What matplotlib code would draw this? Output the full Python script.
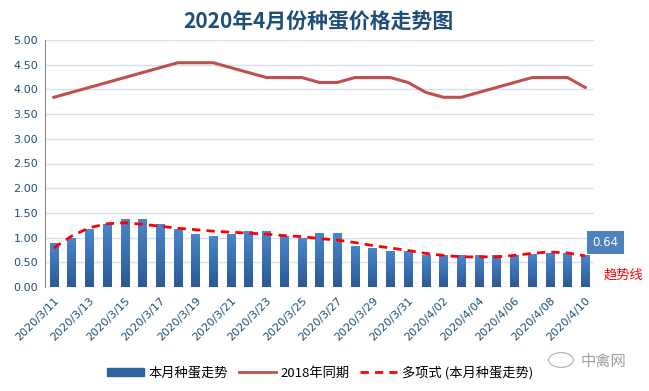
import numpy as np
import matplotlib
matplotlib.use('Agg')
import matplotlib.pyplot as plt
from matplotlib.patches import Rectangle, Circle
from matplotlib.lines import Line2D

plt.rcParams['font.family'] = ['Noto Sans CJK SC', 'DejaVu Sans']

# dates 2020/3/11 .. 2020/4/10
dates = [f'2020/3/{d}' for d in range(11, 32)] + [f'2020/4/{d:02d}' for d in range(1, 11)]

# this month's hatching-egg price
price_2020 = [0.89, 1.00, 1.18, 1.28, 1.38, 1.38, 1.28, 1.18, 1.08, 1.04,
              1.08, 1.14, 1.14, 1.04, 1.00, 1.10, 1.10, 0.83, 0.78, 0.73,
              0.72, 0.64, 0.64, 0.64, 0.64, 0.64, 0.64, 0.67, 0.68, 0.68, 0.64]

# same period 2018
price_2018 = [3.84, 3.94, 4.04, 4.14, 4.24, 4.34, 4.44, 4.54, 4.54, 4.54,
              4.44, 4.34, 4.24, 4.24, 4.24, 4.14, 4.14, 4.24, 4.24, 4.24,
              4.14, 3.94, 3.84, 3.84, 3.94, 4.04, 4.14, 4.24, 4.24, 4.24, 4.04]

# polynomial trend line
trend = [0.79, 1.03, 1.20, 1.28, 1.30, 1.27, 1.23, 1.19, 1.16, 1.13,
         1.11, 1.09, 1.07, 1.04, 1.02, 0.98, 0.95, 0.90, 0.84, 0.79,
         0.74, 0.68, 0.64, 0.61, 0.61, 0.61, 0.64, 0.68, 0.71, 0.69, 0.63]

yticks = [0, 0.5, 1.0, 1.5, 2.0, 2.5, 3.0, 3.5, 4.0, 4.5, 5.0]

fig = plt.figure(figsize=(6.49, 3.91), dpi=100)
ax = fig.add_axes([45 / 649, 1 - 287 / 391, (594 - 45) / 649, (287 - 40) / 391])

x = np.arange(len(dates))
bar_w = 0.47

# gradient bars
grad = np.linspace(0, 1, 64).reshape(-1, 1)
cmap = matplotlib.colors.LinearSegmentedColormap.from_list('bl', ['#2c5a94', '#4a87cc'])
bars = ax.bar(x, price_2020, width=bar_w, color='#3a70b3', zorder=2)
for b in bars:
    bx, by = b.get_x(), b.get_y()
    bw, bh = b.get_width(), b.get_height()
    im = ax.imshow(grad, cmap=cmap, aspect='auto', origin='lower',
                   extent=[bx, bx + bw, by, by + bh], zorder=2.1)
    im.set_clip_path(b)

ax.plot(x, price_2018, color='#c0504d', lw=2.2, zorder=3)
ax.plot(x, trend, color='#ff0000', lw=2, ls=(0, (3, 2.2)), zorder=4)

ax.set_xlim(-0.5, len(dates) - 0.5)
ax.set_ylim(0, 5)
ax.set_yticks(yticks)
ax.set_yticklabels([f'{v:.2f}' for v in yticks], color='#1f4e79', fontsize=8,
                   family=['DejaVu Sans'])
ax.set_xticks(x[::2])
ax.set_xticklabels(dates[::2], rotation=45, ha='right', rotation_mode='anchor',
                   color='#1f4e79', fontsize=8, family=['DejaVu Sans'])
ax.tick_params(length=0, pad=5)
ax.tick_params(axis='x', pad=6)
ax.grid(axis='y', color='#d6e0ef', lw=1, zorder=0)
for s in ['top', 'right', 'bottom']:
    ax.spines[s].set_visible(False)
ax.spines['left'].set_color('#8c8c8c')

fig.text(318 / 649, 1 - 22 / 391, '2020年4月份种蛋价格走势图', ha='center', va='center',
         fontsize=15, fontweight='bold', color='#1f4e79')

# last-value label
ax.text(len(dates) - 1 + 1.14, 0.90, '0.64', ha='center', va='center', fontsize=8.5,
        color='white', family=['DejaVu Sans'], clip_on=False,
        bbox=dict(boxstyle='square,pad=0.45', fc='#4f81bd', ec='none'))
fig.text(624 / 649, 1 - 275 / 391, '趋势线', ha='center', va='center', fontsize=9.5,
         color='#ff0000')

handles = [Rectangle((0, 0), 1, 1, color='#2f62a3'),
           Line2D([], [], color='#c0504d', lw=2),
           Line2D([], [], color='#ff0000', lw=2, ls=(0, (3, 2.2)))]
fig.legend(handles, ['本月种蛋走势', '2018年同期', '多项式 (本月种蛋走势)'],
           loc='center', bbox_to_anchor=(320 / 649, 1 - 373 / 391), ncol=3,
           frameon=False, fontsize=9.5, handlelength=2.8, handleheight=0.6,
           columnspacing=0.8, handletextpad=0.35)

# watermark
fig.patches.append(Circle((561 / 649, 1 - 360 / 391), 0.019, transform=fig.transFigure,
                          fill=False, ec='#b0b0b0', lw=0.8))
fig.text(603 / 649, 1 - 361 / 391, '中禽网', ha='center', va='center', fontsize=11,
         color='#a0a0a0')

fig.savefig('out.png', dpi=100)
